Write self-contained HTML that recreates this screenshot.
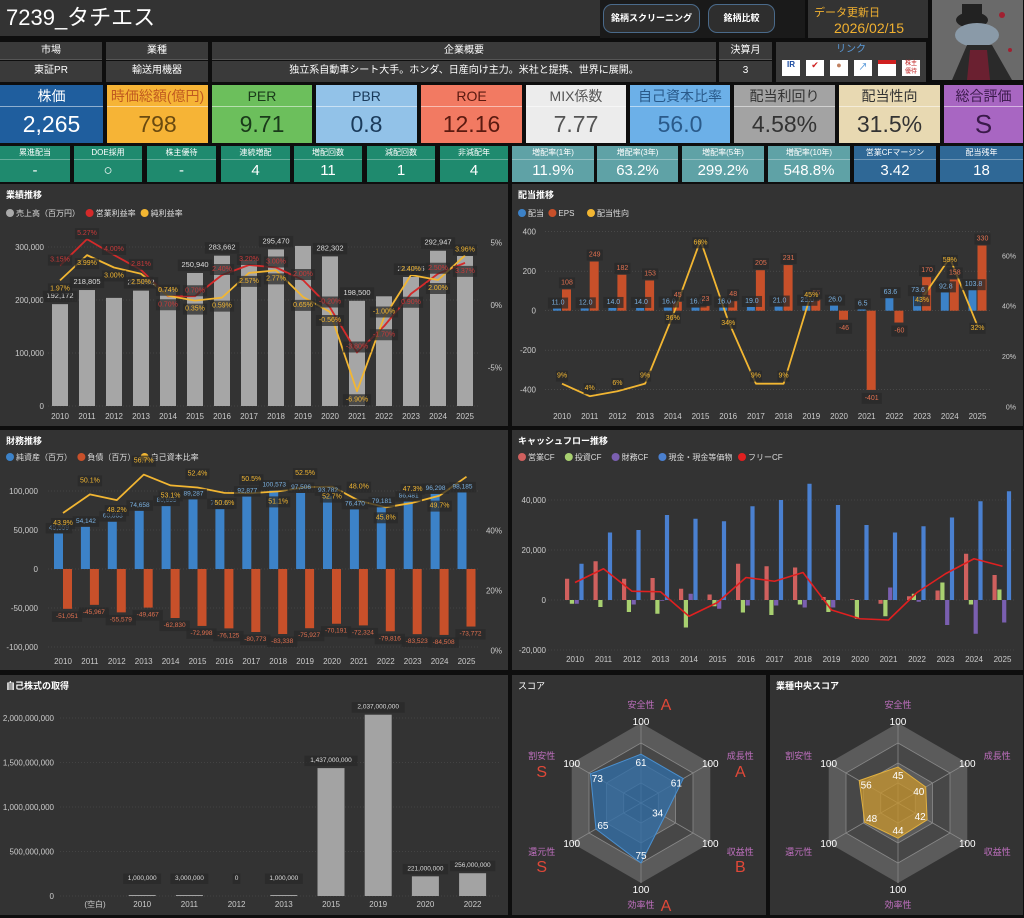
<!DOCTYPE html>
<html><head><meta charset="utf-8">
<style>
*{box-sizing:border-box;margin:0;padding:0}
body{width:1024px;height:918px;background:#0e0e0e;font-family:"Liberation Sans","Noto Sans CJK JP",sans-serif;color:#fff;position:relative;overflow:hidden}
.a{position:absolute}
.p{position:absolute;background:#333;}
.hd{position:absolute;left:0;right:0;top:0;height:18px;background:#3a3a3a;border-bottom:1px solid #555;font-size:10px;text-align:center;line-height:18px;color:#fff}
.vl{position:absolute;left:0;right:0;top:19px;bottom:0;background:#3a3a3a;font-size:10px;text-align:center;line-height:20px}
.k{position:absolute;top:85px;height:58px}
.k .t{height:22px;border-bottom:1px solid rgba(255,255,255,.5);text-align:center;font-size:14px;line-height:22px}
.k .v{text-align:center;font-size:23px;line-height:34px}
.s{position:absolute;top:146px;height:36px}
.s .t{font-size:8px;text-align:center;height:14px;line-height:14px;border-bottom:1px solid rgba(255,255,255,.3)}
.s .v{font-size:15px;text-align:center;line-height:21px}
.g{background:#1f8a6e;color:#fff}
.tl{background:#5fa2a6;color:#fff}
.bl{background:#2f6896}
.ttl{position:absolute;left:6px;top:4px;font-size:9px;font-weight:bold}
.btn{position:absolute;top:4px;height:29px;background:#2e2e2e;border:1.5px solid #4a6a8a;border-radius:9px;font-size:9px;text-align:center;line-height:26px;font-weight:bold}
svg text{font-family:"Liberation Sans","Noto Sans CJK JP",sans-serif}
</style></head><body>
<div class="a" style="left:0;top:0;width:600px;height:36px;background:#333;font-size:22px;line-height:36px;padding-left:6px">7239_タチエス</div>
<div class="a" style="left:600px;top:0;width:205px;height:38px;background:#1a1a1a"></div>
<div class="btn" style="left:603px;width:97px">銘柄スクリーニング</div>
<div class="btn" style="left:708px;width:67px">銘柄比較</div>
<div class="a" style="left:808px;top:0;width:120px;height:38px;background:#333;color:#f0b030"><div style="font-size:11px;padding:4px 0 0 6px">データ更新日</div><div style="font-size:14px;padding-left:26px">2026/02/15</div></div>
<div class="a" style="left:932px;top:0;width:91px;height:80px;background:#5a5a5a;overflow:hidden">
<svg width="91" height="80"><rect width="91" height="80" fill="#6a6a6a"/><ellipse cx="40" cy="20" rx="16" ry="8" fill="#222"/><rect x="30" y="4" width="20" height="16" fill="#222"/><ellipse cx="45" cy="35" rx="22" ry="12" fill="#8a9aa8"/><polygon points="20,80 35,45 60,45 80,80" fill="#2a2a2a"/><polygon points="38,50 55,50 58,80 35,80" fill="#6a2030"/><circle cx="70" cy="15" r="3" fill="#a02030"/><circle cx="78" cy="50" r="2" fill="#a02030"/></svg></div>

<div class="a" style="left:0;top:42px;width:102px;height:40px"><div class="hd">市場</div><div class="vl">東証PR</div></div>
<div class="a" style="left:106px;top:42px;width:102px;height:40px"><div class="hd">業種</div><div class="vl">輸送用機器</div></div>
<div class="a" style="left:212px;top:42px;width:504px;height:40px"><div class="hd">企業概要</div><div class="vl">独立系自動車シート大手。ホンダ、日産向け主力。米社と提携、世界に展開。</div></div>
<div class="a" style="left:719px;top:42px;width:53px;height:40px"><div class="hd">決算月</div><div class="vl">3</div></div>
<div class="a" style="left:776px;top:42px;width:150px;height:40px;background:#3a3a3a"><div style="text-align:center;font-size:10px;color:#5a9ad8;line-height:16px">リンク</div>
<div style="position:absolute;left:6px;top:18px;display:flex;gap:6px">
<div style="width:18px;height:16px;background:#fff;color:#1a4aa0;font-size:8px;font-weight:bold;text-align:center">IR</div>
<div style="width:18px;height:16px;background:#fff;color:#d02020;font-size:9px;text-align:center">✔</div>
<div style="width:18px;height:16px;background:#fff;color:#c08060;font-size:9px;text-align:center">●</div>
<div style="width:18px;height:16px;background:#fff;color:#3080d0;font-size:9px;text-align:center">↗</div>
<div style="width:18px;height:16px;background:#fff;border-top:4px solid #d02020"></div>
<div style="width:18px;height:16px;background:#fff;color:#c02020;font-size:6px;text-align:center;line-height:8px">株主<br>優待</div></div></div>

<div class="k" style="left:0;width:103px;background:#1f5e9e"><div class="t">株価</div><div class="v">2,265</div></div>
<div class="k" style="left:107px;width:101px;background:#f6b436;color:#c05a20"><div class="t">時価総額(億円)</div><div class="v" style="color:#6a4a10">798</div></div>
<div class="k" style="left:212px;width:100px;background:#6cbf5c;color:#1a3a1a"><div class="t">PER</div><div class="v">9.71</div></div>
<div class="k" style="left:316px;width:101px;background:#92c2e8;color:#1a3a5a"><div class="t">PBR</div><div class="v">0.8</div></div>
<div class="k" style="left:421px;width:101px;background:#f27a62;color:#5a1a10"><div class="t">ROE</div><div class="v">12.16</div></div>
<div class="k" style="left:526px;width:100px;background:#ececec;color:#555"><div class="t">MIX係数</div><div class="v">7.77</div></div>
<div class="k" style="left:630px;width:100px;background:#6cb0e8;color:#2a5a8a"><div class="t">自己資本比率</div><div class="v">56.0</div></div>
<div class="k" style="left:734px;width:101px;background:#a3a3a3;color:#333"><div class="t">配当利回り</div><div class="v">4.58%</div></div>
<div class="k" style="left:839px;width:101px;background:#e8d9b2;color:#333"><div class="t">配当性向</div><div class="v">31.5%</div></div>
<div class="k" style="left:944px;width:79px;background:#a866c2;color:#3a1a4a"><div class="t">総合評価</div><div class="v" style="font-size:26px">S</div></div>

<div class="s g" style="left:0;width:70px"><div class="t">累進配当</div><div class="v">-</div></div>
<div class="s g" style="left:74px;width:68px"><div class="t">DOE採用</div><div class="v">○</div></div>
<div class="s g" style="left:147px;width:69px"><div class="t">株主優待</div><div class="v">-</div></div>
<div class="s g" style="left:221px;width:69px"><div class="t">連続増配</div><div class="v">4</div></div>
<div class="s g" style="left:294px;width:68px"><div class="t">増配回数</div><div class="v">11</div></div>
<div class="s g" style="left:367px;width:68px"><div class="t">減配回数</div><div class="v">1</div></div>
<div class="s g" style="left:440px;width:68px"><div class="t">非減配年</div><div class="v">4</div></div>
<div class="s tl" style="left:512px;width:82px"><div class="t">増配率(1年)</div><div class="v">11.9%</div></div>
<div class="s tl" style="left:597px;width:81px"><div class="t">増配率(3年)</div><div class="v">63.2%</div></div>
<div class="s tl" style="left:682px;width:82px"><div class="t">増配率(5年)</div><div class="v">299.2%</div></div>
<div class="s tl" style="left:768px;width:82px"><div class="t">増配率(10年)</div><div class="v">548.8%</div></div>
<div class="s bl" style="left:854px;width:82px"><div class="t">営業CFマージン</div><div class="v">3.42</div></div>
<div class="s bl" style="left:940px;width:83px"><div class="t">配当残年</div><div class="v">18</div></div>

<div class="p" style="left:0;top:184px;width:508px;height:242px"><div class="ttl">業績推移</div></div>
<div class="p" style="left:512px;top:184px;width:511px;height:242px"><div class="ttl">配当推移</div></div>
<div class="p" style="left:0;top:430px;width:508px;height:240px"><div class="ttl">財務推移</div></div>
<div class="p" style="left:512px;top:430px;width:511px;height:240px"><div class="ttl">キャッシュフロー推移</div></div>
<div class="p" style="left:0;top:675px;width:508px;height:240px"><div class="ttl">自己株式の取得</div></div>
<div class="p" style="left:512px;top:675px;width:254px;height:240px"><div class="ttl" style="font-weight:normal">スコア</div></div>
<div class="p" style="left:770px;top:675px;width:253px;height:240px"><div class="ttl">業種中央スコア</div></div>

<svg id="sv" class="a" style="left:0;top:0" width="1024" height="918"></svg>
<script>
const years=['2010','2011','2012','2013','2014','2015','2016','2017','2018','2019','2020','2021','2022','2023','2024','2025'];
const sales=[192172,218805,204000,217692,220000,250940,283662,275000,295470,302000,282302,198500,207000,243436,292947,283000];
const salesLbl=['192,172','218,805','','217,692','','250,940','283,662','','295,470','','282,302','198,500','','243,436','292,947',''];
const opMargin=[3.15,5.27,4.0,2.81,0.7,0.7,2.4,3.2,3.0,2.0,-0.2,-3.8,-1.7,0.9,2.5,3.37];
const netMargin=[1.97,3.99,3.0,2.5,0.74,0.35,0.59,2.57,2.77,0.65,-0.56,-6.9,-1.0,2.4,2.0,3.96];
const perfTicks=[0,100000,200000,300000];
const perfPctTicks=[-5,0,5];
const divs=[11,12,14,14,16,16,16,19,21,25,26,6.5,63.6,73.6,92.8,103.8];
const eps=[108,249,182,153,45,23,48,205,231,55,-46,-401,-60,170,158,330];
const payout=[9,4,6,9,36,66,34,9,9,45,null,null,null,43,59,32];
const divTicks=[-400,-200,0,200,400];
const payTicks=[0,20,40,60];
const netAssets=[45559,54142,60663,74658,80655,89287,76791,92877,100573,97506,93782,76470,79181,86481,96298,98185];
const liabs=[-51051,-45967,-55579,-49467,-62830,-72998,-76125,-80773,-83338,-75927,-70191,-72324,-79816,-83523,-84508,-73772];
const eqRatio=[43.9,50.1,48.2,56.7,53.1,52.4,50.6,50.5,51.1,52.5,52.7,48.0,45.8,47.3,49.7,56.0];
const finTicks=[-100000,-50000,0,50000,100000];
const eqTicks=[0,20,40];
const opCF=[8500,15500,8500,8800,4500,2200,14500,13500,13000,1200,300,-1500,1500,3800,18500,10000];
const invCF=[-1500,-2800,-4800,-5500,-11000,-2500,-5000,-6000,-1800,-4800,-7500,-6500,2500,7000,-1800,4200];
const finCF=[-1500,0,-1800,-300,2500,-3500,-2200,-2200,-3000,-3000,0,5000,-700,-10000,-13500,-9000];
const cash=[14500,27000,28000,34000,32500,31500,37500,40000,46500,38000,30000,27000,29500,33000,39500,43500];
const freeCF=[7000,12500,3500,3300,-6500,-1000,9000,7500,11000,-4000,-7500,-8000,3000,10500,16500,13500];
const cfTicks=[-20000,0,20000,40000];
const bbCats=['(空白)','2010','2011','2012','2013','2015','2019','2020','2022'];
const bbVals=[0,1000000,3000000,0,1000000,1437000000,2037000000,221000000,256000000];
const bbTicks=[0,500000000,1000000000,1500000000,2000000000];
const axes=['安全性','成長性','収益性','効率性','還元性','割安性'];
const score=[61,61,34,75,65,73];
const grades=['A','A','B','A','S','S'];
const indScore=[45,40,42,44,48,56];

const NS='http://www.w3.org/2000/svg';const sv=document.getElementById('sv');
function mk(t,a){const e=document.createElementNS(NS,t);for(const k in a)e.setAttribute(k,a[k]);sv.appendChild(e);return e;}
function tx(x,y,s,fill,size,anchor){const e=mk('text',{x:x,y:y,fill:fill,'font-size':size,'text-anchor':anchor||'middle'});e.textContent=s;return e;}
const fmt=v=>v.toLocaleString('en-US');
function lbl(x,y,s,fill,size){const w=s.length*size*0.58+4;const r=mk('rect',{x:x-w/2,y:y-size,width:w,height:size+4,fill:'#2a2a2a','fill-opacity':0.75});const t=tx(x,y,s,fill,size);}
function legend(x,y,items){let cx=x;items.forEach(it=>{const c=mk('circle',{cx:cx+4,cy:y-3,r:4,fill:it[1]});const t=tx(cx+10,y,it[0],'#ddd',8,'start');cx+=14+it[0].length*8.2;});}
function grid(x1,x2,y){const l=mk('line',{x1:x1,x2:x2,y1:y,y2:y,stroke:'#555','stroke-dasharray':'1,2','stroke-width':0.6});}
function poly(pts,col,w){let d='';let pen=false;pts.forEach(p=>{if(p==null){pen=false;return;}d+=(pen?'L':'M')+p[0]+','+p[1];pen=true;});const e=mk('path',{d:d,fill:'none',stroke:col,'stroke-width':w||1.8,'stroke-linejoin':'round'});return e;}

// Performance
{const X=i=>60+i*27,Y=v=>406-v/300000*159,P=v=>305-v*12.5;
legend(6,216,[['売上高（百万円）','#aaa'],['営業利益率','#d42a2a'],['純利益率','#f2b632']]);
perfTicks.forEach(v=>{grid(48,478,Y(v));const t=tx(44,Y(v)+3,fmt(v),'#ccc',8,'end');});
perfPctTicks.forEach(v=>{const t=tx(502,P(v)+3,v+'%','#ccc',8,'end');});
years.forEach((y,i)=>{const b=mk('rect',{x:X(i)-8,y:Y(sales[i]),width:16,height:406-Y(sales[i]),fill:'#a6a6a6'});const t=tx(X(i),419,y,'#ccc',8);});
const l1=poly(opMargin.map((v,i)=>[X(i),P(v)]),'#d42a2a');
const l2=poly(netMargin.map((v,i)=>[X(i),P(v)]),'#f2b632');
years.forEach((y,i)=>{if(salesLbl[i])lbl(X(i),Y(sales[i])-6,salesLbl[i],'#ddd',7.5);const up=netMargin[i]<opMargin[i];lbl(X(i),P(opMargin[i])+(up?-4:10),opMargin[i].toFixed(2)+'%','#c83a3a',7);lbl(X(i),P(netMargin[i])+(up?10:-4),netMargin[i].toFixed(2)+'%','#f2b632',7);});}

// Dividend
{const X=i=>562+i*27.7,Y=v=>310.7-v*0.1975,P=v=>406.3-v*2.515;
legend(518,216,[['配当','#3c82c8'],['EPS','#c8502a'],['配当性向','#f2b632']]);
divTicks.forEach(v=>{grid(545,990,Y(v));const t=tx(536,Y(v)+3,String(v),'#ccc',8,'end');});
payTicks.forEach(v=>{const t=tx(1016,P(v)+3,v+'%','#ccc',7,'end');});
years.forEach((y,i)=>{const x=X(i);
const b=mk('rect',{x:x-9,y:Math.min(Y(divs[i]),Y(0)),width:8,height:Math.abs(Y(divs[i])-Y(0)),fill:'#3c82c8'});
const e=mk('rect',{x:x,y:Math.min(Y(eps[i]),Y(0)),width:9,height:Math.abs(Y(eps[i])-Y(0)),fill:'#c8502a'});
const t=tx(x,419,y,'#ccc',8);});
const l=poly(payout.map((v,i)=>v==null?null:[X(i),P(v)]),'#f2b632');
years.forEach((y,i)=>{const x=X(i);lbl(x-4,Y(Math.max(divs[i],0))-4,divs[i].toFixed(1),'#7ab0e0',7);lbl(x+5,eps[i]>=0?Y(eps[i])-5:Y(eps[i])+10,String(eps[i]),'#e07050',7);if(payout[i]!=null)lbl(x,P(payout[i])+(payout[i]>30?4:-6),payout[i]+'%','#f2b632',7);});}

// Financial
{const X=i=>63+i*26.9,Y=v=>569-v*0.00078,P=v=>650.7-v*3;
legend(6,460,[['純資産（百万）','#3c82c8'],['負債（百万）','#c8502a'],['自己資本比率','#f2b632']]);
finTicks.forEach(v=>{grid(48,478,Y(v));const t=tx(38,Y(v)+3,fmt(v),'#ccc',8,'end');});
eqTicks.forEach(v=>{const t=tx(502,P(v)+3,v+'%','#ccc',8,'end');});
years.forEach((y,i)=>{const x=X(i);
const b=mk('rect',{x:x-9,y:Y(netAssets[i]),width:9,height:Y(0)-Y(netAssets[i]),fill:'#3c82c8'});
const d=mk('rect',{x:x,y:Y(0),width:9,height:Y(liabs[i])-Y(0),fill:'#c8502a'});
const t=tx(x,664,y,'#ccc',8);});
const l=poly(eqRatio.map((v,i)=>[X(i),P(v)-6]),'#f2b632');
years.forEach((y,i)=>{const x=X(i);lbl(x-4,Y(netAssets[i])-4,fmt(netAssets[i]),'#7ab0e0',6.5);lbl(x+4,Y(liabs[i])+9,fmt(liabs[i]),'#e07050',6.5);if(i<15)lbl(x,P(eqRatio[i])-(i%2?18:-6),eqRatio[i].toFixed(1)+'%','#f2b632',7);});}

// Cash flow
{const X=i=>575+i*28.5,Y=v=>600-v*0.0025;
legend(518,460,[['営業CF','#d0605e'],['投資CF','#a8d070'],['財務CF','#7a5fb0'],['現金・現金等価物','#4a80d0'],['フリーCF','#e02020']]);
cfTicks.forEach(v=>{grid(545,1015,Y(v));const t=tx(546,Y(v)+3,fmt(v),'#ccc',8,'end');});
const ser=[[opCF,'#d0605e','operating-cf-bar'],[invCF,'#a8d070','investing-cf-bar'],[finCF,'#7a5fb0','financing-cf-bar'],[cash,'#4a80d0','cash-bar']];
years.forEach((y,i)=>{ser.forEach((s,k)=>{const v=s[0][i];const b=mk('rect',{x:X(i)-10+k*4.8,y:Math.min(Y(v),Y(0)),width:4.2,height:Math.abs(Y(v)-Y(0)),fill:s[1]});});
const t=tx(X(i),662,y,'#ccc',8);});
const l=poly(freeCF.map((v,i)=>[X(i),Y(v)]),'#e02020',1.6);}

// Buyback
{const X=i=>95+i*47.2,Y=v=>896-v/2e9*178;
bbTicks.forEach(v=>{grid(60,500,Y(v));const t=tx(54,Y(v)+3,fmt(v),'#ccc',8,'end');});
bbCats.forEach((c,i)=>{const h=Math.max(896-Y(bbVals[i]),bbVals[i]>0?1:0);const b=mk('rect',{x:X(i)-13.5,y:896-h,width:27,height:h,fill:'#a3a3a3'});
const t=tx(X(i),907,c,'#ccc',8);
if(i>0)lbl(X(i),Math.min(Y(bbVals[i]),886)-6,fmt(bbVals[i]),'#ddd',6.5);});}

// Radar
function radar(cx,cy,R,vals,fill,stroke,gr){
for(let lv=4;lv>=1;lv--){const pts=[];for(let k=0;k<6;k++){const a=-Math.PI/2+k*Math.PI/3;pts.push((cx+R*lv/4*Math.cos(a)).toFixed(1)+','+(cy+R*lv/4*Math.sin(a)).toFixed(1));}
const h=mk('polygon',{points:pts.join(' '),fill:lv%2?'#474747':'#5b5b5b',stroke:lv===4?'none':'#888','stroke-width':0.8});}
for(let k=0;k<6;k++){const a=-Math.PI/2+k*Math.PI/3;const s=mk('line',{x1:cx,y1:cy,x2:cx+R*Math.cos(a),y2:cy+R*Math.sin(a),stroke:'#888','stroke-width':0.8});}
const pts=vals.map((v,k)=>{const a=-Math.PI/2+k*Math.PI/3;return[cx+R*v/100*Math.cos(a),cy+R*v/100*Math.sin(a)];});
const p=mk('polygon',{points:pts.map(q=>q.join(',')).join(' '),fill:fill,'fill-opacity':0.75,stroke:stroke,'stroke-width':1});
vals.forEach((v,k)=>{const a=-Math.PI/2+k*Math.PI/3;const t=tx(pts[k][0]-Math.cos(a)*8,pts[k][1]-Math.sin(a)*8+4,String(v),'#fff',10);
const vx=cx+R*Math.cos(a),vy=cy+R*Math.sin(a);const side=Math.cos(a)>0.1?1:Math.cos(a)<-0.1?-1:0;
let hx=vx,hy,nx,ny,gx,gy;
if(k===0){hy=vy+2;nx=cx;ny=vy-15;gx=cx+25;gy=vy-13;}
else if(k===3){hy=vy+10;nx=cx;ny=vy+25;gx=cx+25;gy=vy+28;}
else{hy=vy+4;nx=vx+side*30;const upper=(k===1||k===5);ny=upper?vy-4:vy+12;gx=nx;gy=upper?vy+14:vy+29;}
const h=tx(hx,hy,'100','#fff',10);
const n=tx(nx,ny,axes[k],'#c070c0',9);
if(gr){const g=tx(gx,gy,gr[k],'#e04838',16);}});}
radar(641,803,80,score,'#2f6ea8','#4a90d0',grades);
radar(898,803,80,indScore,'#c8962e','#e0b040',null);
</script>
</body></html>
